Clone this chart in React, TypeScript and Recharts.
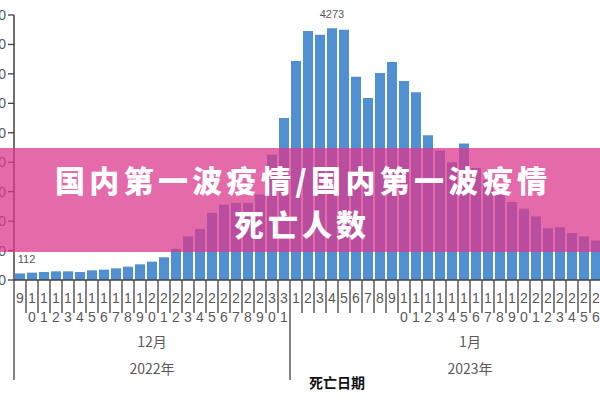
import React from 'react';
import { BarChart, Bar, XAxis, YAxis, LabelList } from 'recharts';

const decDays = [9, 10, 11, 12, 13, 14, 15, 16, 17, 18, 19, 20, 21, 22, 23, 24, 25, 26, 27, 28, 29, 30, 31];
const decDeaths = [112, 125, 135, 147, 147, 135, 164, 176, 198, 227, 266, 312, 386, 530, 740, 865, 1140, 1280, 1310, 1310, 1450, 2130, 2750];
const janDays = [1, 2, 3, 4, 5, 6, 7, 8, 9, 10, 11, 12, 13, 14, 15, 16, 17, 18, 19, 20, 21, 22, 23, 24, 25, 26, 27, 28, 29, 30];
const janDeaths = [3720, 4230, 4165, 4273, 4250, 3450, 3090, 3515, 3700, 3380, 3190, 2460, 2200, 2000, 2320, 1900, 1700, 1450, 1325, 1210, 1080, 880, 896, 800, 740, 670, 640, 600, 560, 520];
const yTicks = [0, 500, 1000, 1500, 2000, 2500, 3000, 3500, 4000, 4500];
const monthNames = ['12月', '1月'];
const yearNames = ['2022年', '2023年'];
const labeledKeys = ['2022-12-9', '2023-1-4'];
const axisTitle = '死亡日期';
const bannerLine1 = '国内第一波疫情/国内第一波疫情';
const bannerLine2 = '死亡人数';

const rows = [
  ...decDays.map((d, i) => ({ key: `2022-12-${d}`, day: d, group: 0, deaths: decDeaths[i] })),
  ...janDays.map((d, i) => ({ key: `2023-1-${d}`, day: d, group: 1, deaths: janDeaths[i] })),
];
const groupStarts = [0, decDays.length];
const groupSizes = [decDays.length, janDays.length];

const FONT = "'Liberation Sans', Arial, 'Noto Sans CJK SC', sans-serif";
const CJK = "'Noto Sans CJK SC', 'Liberation Sans', sans-serif";
const AXIS = '#404040';
const TEXT = '#595959';

const DayTick = (props: any) => {
  const { x, y, payload } = props;
  const index: number = payload.index;
  const row = rows[index];
  if (!row) return null;
  const half = payload.offset && payload.offset > 0 ? payload.offset : 6;
  const band = half * 2;
  const s = String(row.day);
  const g = row.group;
  const isStart = groupStarts.includes(index);
  const mid = groupStarts[g] + (groupSizes[g] - 1) / 2;
  const isMid = index === Math.floor(mid);
  const midX = x + (mid - Math.floor(mid)) * band;
  const isLast = index === rows.length - 1;
  return (
    <g>
      <line x1={x - half} x2={x - half} y1={y} y2={y + (isStart ? 100 : 33)} stroke={AXIS} strokeWidth={1.3} />
      {isLast && <line x1={x + half} x2={x + half} y1={y} y2={y + 100} stroke={AXIS} strokeWidth={1.3} />}
      <text x={x} y={y + 23} textAnchor="middle" fontSize={14} fill={TEXT} fontFamily={FONT}>{s[0]}</text>
      {s.length > 1 && (
        <text x={x} y={y + 42} textAnchor="middle" fontSize={14} fill={TEXT} fontFamily={FONT}>{s[1]}</text>
      )}
      {isMid && (
        <g>
          <text x={midX} y={y + 67} textAnchor="middle" fontSize={14} fill={TEXT} fontFamily={CJK}>{monthNames[g]}</text>
          <text x={midX} y={y + 94} textAnchor="middle" fontSize={14} fill={TEXT} fontFamily={CJK}>{yearNames[g]}</text>
        </g>
      )}
    </g>
  );
};

const PLOT_LEFT = 74;

const ValueLabel = (props: any) => {
  const { x, y, width, value, index } = props;
  const row = rows[index];
  if (!row || !labeledKeys.includes(row.key)) return null;
  const text = String(value);
  const halfW = text.length * 3.2;
  const cx = Math.max(x + width / 2, PLOT_LEFT + halfW + 3);
  return (
    <text x={cx} y={y - 10} textAnchor="middle" fontSize={11} fill={TEXT} fontFamily={FONT}>{text}</text>
  );
};

export default function App() {
  return (
    <div style={{ position: 'absolute', left: 0, top: 0, width: 600, height: 400, overflow: 'hidden', background: '#fff' }}>
      <div style={{ position: 'absolute', left: -60, top: 0 }}>
        <BarChart
          width={710}
          height={400}
          data={rows}
          margin={{ top: 15, right: 0, bottom: 0, left: 14 }}
          barCategoryGap={1}
        >
          <YAxis
            width={60}
            domain={[0, 4500]}
            ticks={yTicks}
            interval={0}
            axisLine={{ stroke: AXIS, strokeWidth: 1.5 }}
            tickLine={{ stroke: AXIS, strokeWidth: 1.3 }}
            tickSize={6}
            tick={{ fill: TEXT, fontSize: 14, fontFamily: FONT }}
          />
          <XAxis
            dataKey="key"
            height={120}
            interval={0}
            tickLine={false}
            tickSize={0}
            tickMargin={0}
            axisLine={{ stroke: AXIS, strokeWidth: 1.5 }}
            tick={(p: any) => <DayTick {...p} />}
            label={{
              content: (p: any) => {
                const vb = p.viewBox || {};
                return (
                  <text x={(vb.x ?? 74) + 323} y={(vb.y ?? 280) + 108} textAnchor="middle" fontSize={14} fontWeight={700} fill="#111" fontFamily={CJK}>{axisTitle}</text>
                );
              },
            }}
          />
          <Bar dataKey="deaths" fill="#4F8FD2" isAnimationActive={false}>
            <LabelList dataKey="deaths" content={(p: any) => <ValueLabel {...p} />} />
          </Bar>
        </BarChart>
      </div>
      <svg width={600} height={400} style={{ position: 'absolute', left: 0, top: 0, pointerEvents: 'none' }}>
        <rect x={0} y={148} width={600} height={104} fill="rgba(220,56,142,0.75)" />
        <text x={55} y={192} fontSize={30} fontWeight={900} fill="#fff" fontFamily={CJK} textLength={492} lengthAdjust="spacing">{bannerLine1}</text>
        <text x={234} y={236} fontSize={30} fontWeight={900} fill="#fff" fontFamily={CJK} textLength={132} lengthAdjust="spacing">{bannerLine2}</text>
      </svg>
    </div>
  );
}
